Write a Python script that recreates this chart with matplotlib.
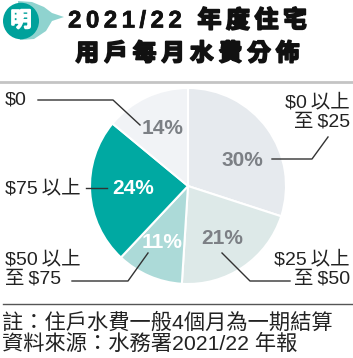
import matplotlib.pyplot as plt
import matplotlib.patheffects as pe
from matplotlib.lines import Line2D
from matplotlib.patches import Circle, Polygon

plt.rcParams['font.family'] = ['Liberation Sans', 'Noto Sans CJK TC', 'DejaVu Sans']

W, H = 353, 358

# data
groups = ['$0\u2009以上\n至\u2009$25', '$25\u2009以上\n至\u2009$50',
          '$50\u2009以上\n至\u2009$75', '$75\u2009以上', '$0']
shares = [30, 21, 11, 24, 14]
pct_labels = ['30%', '21%', '11%', '24%', '14%']
slice_colors = ['#e6eaee', '#dde9e8', '#acdad8', '#00a9a2', '#f1f3f6']
pct_colors = ['#7c8085', '#7c8085', 'white', 'white', '#7c8085']

title_lines = ['2021/22 年度住宅', '用戶每月水費分佈']
notes = ['註：住戶水費一般4個月為一期結算', '資料來源：水務署2021/22 年報']


def P(x, y):
    return x / W, 1 - y / H


fig = plt.figure(figsize=(W / 100, H / 100), dpi=100)
fig.patch.set_facecolor('white')

# pie, centre (188, 186) px, radius 98 px
cx, cy, r = 188, 186, 98
ax = fig.add_axes([(cx - r) / W, (H - cy - r) / H, 2 * r / W, 2 * r / H])
ax.pie(shares, colors=slice_colors, startangle=90, counterclock=False,
       wedgeprops=dict(edgecolor='white', linewidth=1.5), radius=1)
ax.set_xlim(-1, 1)
ax.set_ylim(-1, 1)
ax.axis('off')

pct_pos = [(242, 160), (222, 238), (162, 243), (133, 189), (163, 128)]
for t, c, (x, y) in zip(pct_labels, pct_colors, pct_pos):
    fig.text(*P(x, y), t, ha='center', va='center', fontsize=15,
             fontweight='bold', color=c)

# group labels
lab_pos = [(350, 112, 'right'), (350, 269, 'right'), (5, 269, 'left'),
           (5, 188, 'left'), (5, 100, 'left')]
for t, (x, y, ha) in zip(groups, lab_pos):
    fig.text(*P(x, y), t, ha=ha, va='center', fontsize=14, color='#222222',
             linespacing=1.15, multialignment=ha)

leaders = [
    [(328, 137), (312, 159), (272, 159)],
    [(222, 253), (250, 281), (290, 281)],
    [(148, 253), (128, 281), (72, 281)],
    [(86, 188), (107, 188)],
    [(38, 100), (113, 100), (140, 125)],
]
for pts in leaders:
    xs = [P(x, y)[0] for x, y in pts]
    ys = [P(x, y)[1] for x, y in pts]
    fig.add_artist(Line2D(xs, ys, color='#333333', lw=1.0,
                          transform=fig.transFigure))

# rules
fig.add_artist(Line2D([0, 1], [P(0, 81.5)[1]] * 2, color='#c4c4c4', lw=2,
                      transform=fig.transFigure))
fig.add_artist(Line2D([P(3, 0)[0], 1], [P(0, 304)[1]] * 2, color='#555555',
                      lw=1, transform=fig.transFigure))

# logo
swoosh = [(18, 1), (32, 2), (44, 7), (52, 13), (64, 17), (52, 21), (46, 31),
          (34, 39), (20, 40)]
fig.add_artist(Polygon([P(x, y) for x, y in swoosh], closed=True,
                       facecolor='#8fd3cf', edgecolor='none',
                       transform=fig.transFigure))
fig.add_artist(Circle(P(21, 21), 18 / W, facecolor='#00a19b',
                      edgecolor='none', transform=fig.transFigure))
fig.text(*P(21, 21), '明', ha='center', va='center', fontsize=15,
         color='white', style='italic',
         path_effects=[pe.withStroke(linewidth=1.6, foreground='white')])

# title, drawn char by char with a little tracking
renderer = fig.canvas.get_renderer()
bold = [pe.withStroke(linewidth=1.3, foreground='#111111')]
semi = [pe.withStroke(linewidth=0.5, foreground='#111111')]


def tracked(s, y, track, size):
    widths = []
    for ch in s:
        t = fig.text(0, 0, ch, fontsize=size, fontweight='bold')
        widths.append(t.get_window_extent(renderer).width)
        t.remove()
    total = sum(widths) + track * (len(s) - 1)
    x = 187.5 - total / 2
    for ch, w in zip(s, widths):
        fx = bold if ord(ch) > 0x2000 else semi
        fig.text(*P(x, y), ch, fontsize=size, fontweight='bold', ha='left',
                 va='center', color='#111111', path_effects=fx)
        x += w + track


tracked(title_lines[0], 21, 4.5, 17.3)
tracked(title_lines[1], 54, 5, 17)

# notes
fig.text(*P(2, 323), notes[0], ha='left', va='center', fontsize=15.3,
         color='#222222')
fig.text(*P(2, 344), notes[1], ha='left', va='center', fontsize=15.3,
         color='#222222')

fig.savefig('out.png', dpi=100)
